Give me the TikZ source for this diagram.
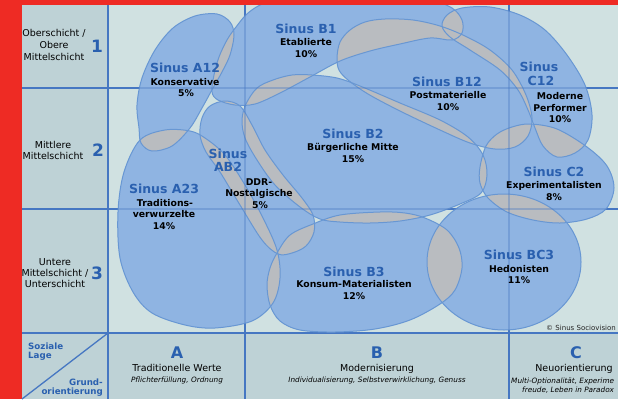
\documentclass[tikz,border=0pt]{standalone}
\usepackage{fontspec}
\setmainfont{DejaVu Sans}
\definecolor{redc}{HTML}{EE2B24}
\definecolor{mainc}{HTML}{D0E1E1}
\definecolor{colc}{HTML}{BED2D6}
\definecolor{gridc}{HTML}{4677C2}
\definecolor{blobc}{HTML}{8FB4E2}
\definecolor{blobe}{HTML}{6897D3}
\definecolor{ovlc}{HTML}{B9BCC0}
\definecolor{ttlc}{HTML}{2A60AF}
\def\blobKon{plot[smooth cycle,tension=0.55] coordinates{(139,128) (137,105) (142,78) (155,50) (173,28) (195,16) (217,14) (230,22) (234,35) (230,55) (222,72) (213,88) (202,108) (190,128) (172,146) (152,151) (141,143)}}
\def\blobEta{plot[smooth cycle,tension=0.55] coordinates{(212,92) (214,75) (219,57) (227,40) (236,27) (248,13) (265,3) (295,-3) (340,-5) (390,-5) (428,-1) (452,8) (462,20) (462,33) (452,40) (430,38) (400,44) (370,51) (340,61) (310,77) (280,93) (255,104) (235,105) (218,100)}}
\def\blobPos{plot[smooth cycle,tension=0.55] coordinates{(337,58) (340,42) (350,30) (365,22) (385,19) (413,20) (440,26) (465,36) (490,50) (512,70) (526,95) (532,118) (528,136) (515,147) (495,149) (470,143) (440,130) (400,111) (368,94) (348,80) (339,70)}}
\def\blobMod{plot[smooth cycle,tension=0.55] coordinates{(442,26) (447,15) (462,8) (490,7) (520,15) (545,30) (567,55) (585,85) (592,115) (588,140) (575,153) (557,157) (543,146) (535,128) (528,110) (518,90) (500,70) (470,50) (450,37)}}
\def\blobTra{plot[smooth cycle,tension=0.55] coordinates{(140,140) (165,130) (190,131) (205,138) (225,155) (245,185) (263,218) (277,250) (280,278) (273,303) (252,321) (215,328) (185,325) (152,313) (133,292) (120,258) (118,212) (124,172)}}
\def\blobDdr{plot[smooth cycle,tension=0.55] coordinates{(200,135) (202,118) (210,106) (225,101) (240,106) (252,125) (265,150) (283,175) (302,198) (313,215) (314,232) (306,246) (292,253) (278,254) (262,240) (240,205) (220,172) (206,152)}}
\def\blobBue{plot[smooth cycle,tension=0.55] coordinates{(242,120) (246,104) (257,88) (273,80) (292,75) (312,75) (337,78) (360,86) (400,103) (440,120) (468,137) (483,155) (487,175) (481,193) (460,204) (430,215) (400,221) (370,223) (340,222) (320,219) (300,207) (275,185) (257,160) (245,138)}}
\def\blobExp{plot[smooth cycle,tension=0.55] coordinates{(480,167) (486,146) (497,134) (512,127) (530,124) (557,129) (587,147) (607,166) (614,188) (606,209) (587,219) (560,223) (533,220) (507,212) (488,198) (480,183)}}
\def\blobKom{plot[smooth cycle,tension=0.55] coordinates{(277,253) (290,235) (313,224) (340,215) (380,212) (405,213) (425,218) (447,230) (459,248) (462,268) (455,290) (440,304) (410,320) (375,329) (335,332) (300,330) (280,321) (270,305) (267,285) (270,268)}}
\def\blobHed{(504,262) ellipse [x radius=77pt,y radius=68pt]}
\begin{document}
\begin{tikzpicture}[x=1pt,y=-1pt,
  gridline/.style={draw=gridc,line width=1.3pt},
  gridfaint/.style={draw=gridc,line width=1.2pt,opacity=0.35},
  blobfill/.style={fill=blobc},
  ovl/.style={fill=ovlc},
  blobline/.style={draw=blobe,line width=1pt},
  ttl/.style={text=ttlc,font=\fontsize{12.5}{13.5}\selectfont\bfseries,anchor=base,inner sep=0pt},
  lbl/.style={text=black,font=\fontsize{9.3}{11.6}\selectfont\bfseries,anchor=base,inner sep=0pt},
  side/.style={text=black,font=\fontsize{9.5}{11.5}\selectfont,anchor=base,inner sep=0pt},
  num/.style={text=ttlc,font=\fontsize{17}{17}\selectfont\bfseries,anchor=base,inner sep=0pt},
  corner/.style={text=ttlc,font=\fontsize{8.7}{9.5}\selectfont\bfseries,inner sep=0pt},
  colhead/.style={text=ttlc,font=\fontsize{16}{16}\selectfont\bfseries,anchor=base,inner sep=0pt},
  colname/.style={text=black,font=\fontsize{9.5}{11}\selectfont,anchor=base,inner sep=0pt},
  colsub/.style={text=black,font=\fontsize{7.3}{9}\selectfont\itshape,anchor=base,inner sep=0pt},
  note/.style={text=black!85,font=\fontsize{7}{8}\selectfont,inner sep=0pt}
]
\useasboundingbox (0,0) rectangle (618,399);
% backgrounds
\fill[redc] (0,0) rectangle (618,399);
\fill[mainc] (22,5) rectangle (618,399);
\fill[colc] (22,5) rectangle (108,333);
\fill[colc] (22,333) rectangle (618,399);
% grid
\draw[gridline] (108,5) -- (108,399);
\draw[gridline] (245,5) -- (245,399);
\draw[gridline] (509,5) -- (509,399);
\draw[gridline] (22,88) -- (618,88);
\draw[gridline] (22,209) -- (618,209);
\draw[gridline] (22,333) -- (618,333);
\draw[gridline] (108,333) -- (22,399);
% blobs
\begin{scope}
\clip (108,5) rectangle (618,332.4);
\foreach \a in {Kon,Eta,Pos,Mod,Tra,Ddr,Bue,Exp,Kom,Hed}{
  \fill[blobfill] \csname blob\a\endcsname;
}
\foreach \a [count=\i] in {Kon,Eta,Pos,Mod,Tra,Ddr,Bue,Exp,Kom,Hed}{
  \foreach \b [count=\j] in {Kon,Eta,Pos,Mod,Tra,Ddr,Bue,Exp,Kom,Hed}{
    \ifnum\i<\j
      \begin{scope}
        \clip \csname blob\a\endcsname;
        \fill[ovl] \csname blob\b\endcsname;
      \end{scope}
    \fi
  }
}
\foreach \a in {Kon,Eta,Pos,Mod,Tra,Ddr,Bue,Exp,Kom,Hed}{
  \draw[blobline] \csname blob\a\endcsname;
}
\draw[gridfaint] (245,5) -- (245,333);
\draw[gridfaint] (509,5) -- (509,333);
\draw[gridfaint] (108,88) -- (618,88);
\draw[gridfaint] (108,209) -- (618,209);
\end{scope}
% blob labels
\node[ttl] (tKon) at (185,72) {Sinus A12};
\node[lbl] (lKon1) at (185,85) {Konservative};
\node[lbl] (lKon2) at (186,96) {5\%};
\node[ttl] (tEta) at (306,33) {Sinus B1};
\node[lbl] (lEta1) at (306,45) {Etablierte};
\node[lbl] (lEta2) at (306,57) {10\%};
\node[ttl] (tPos) at (447,86) {Sinus B12};
\node[lbl] (lPos1) at (448,98) {Postmaterielle};
\node[lbl] (lPos2) at (448,110) {10\%};
\node[ttl] (tMod1) at (539,71) {Sinus};
\node[ttl] (tMod2) at (541,85) {C12};
\node[lbl] (lMod1) at (560,99) {Moderne};
\node[lbl] (lMod2) at (560,111) {Performer};
\node[lbl] (lMod3) at (560,122) {10\%};
\node[ttl] (tBue) at (353,138) {Sinus B2};
\node[lbl] (lBue1) at (353,150) {Bürgerliche Mitte};
\node[lbl] (lBue2) at (353,162) {15\%};
\node[ttl] (tDdr1) at (228,158) {Sinus};
\node[ttl] (tDdr2) at (228,171) {AB2};
\node[lbl] (lDdr1) at (259,185) {DDR-};
\node[lbl] (lDdr2) at (259,196) {Nostalgische};
\node[lbl] (lDdr3) at (260,208) {5\%};
\node[ttl] (tTra) at (164,193) {Sinus A23};
\node[lbl] (lTra1) at (165,206) {Traditions-};
\node[lbl] (lTra2) at (164,217) {verwurzelte};
\node[lbl] (lTra3) at (164,229) {14\%};
\node[ttl] (tExp) at (554,176) {Sinus C2};
\node[lbl] (lExp1) at (554,188) {Experimentalisten};
\node[lbl] (lExp2) at (554,200) {8\%};
\node[ttl] (tKom) at (354,276) {Sinus B3};
\node[lbl] (lKom1) at (354,287) {Konsum-Materialisten};
\node[lbl] (lKom2) at (354,299) {12\%};
\node[ttl] (tHed) at (519,259) {Sinus BC3};
\node[lbl] (lHed1) at (519,272) {Hedonisten};
\node[lbl] (lHed2) at (519,283) {11\%};
\node[note,anchor=base east] (copy) at (616,330) {© Sinus Sociovision};
% left column
\node[side] (s1a) at (54,36) {Oberschicht /};
\node[side] (s1b) at (54,48) {Obere};
\node[side] (s1c) at (54,60) {Mittelschicht};
\node[num] (n1) at (97,52) {1};
\node[side] (s2a) at (53,148) {Mittlere};
\node[side] (s2b) at (53,159) {Mittelschicht};
\node[num] (n2) at (98,156) {2};
\node[side] (s3a) at (55,265) {Untere};
\node[side] (s3b) at (55,276) {Mittelschicht /};
\node[side] (s3c) at (55,287) {Unterschicht};
\node[num] (n3) at (97,279) {3};
% corner
\node[corner,anchor=base west] (soz1) at (28,349) {Soziale};
\node[corner,anchor=base west] (soz2) at (28,358.5) {Lage};
\node[corner,anchor=base east] (gru1) at (103,385) {Grund-};
\node[corner,anchor=base east] (gru2) at (103,394.5) {orientierung};
% bottom row
\node[colhead] (cA) at (177,358) {A};
\node[colname] (cAn) at (177,371) {Traditionelle Werte};
\node[colsub] (cAs) at (177,382) {Pflichterfüllung, Ordnung};
\node[colhead] (cB) at (377,358) {B};
\node[colname] (cBn) at (377,371) {Modernisierung};
\node[colsub] (cBs) at (377,382) {Individualisierung, Selbstverwirklichung, Genuss};
\node[colhead] (cC) at (576,358) {C};
\node[colname] (cCn) at (574,371) {Neuorientierung};
\node[colsub,anchor=base west] (cCs1) at (511,383) {Multi-Optionalität, Experime};
\node[colsub,anchor=base west] (cCs2) at (522,392) {freude, Leben in Paradox};
\end{tikzpicture}
\end{document}
